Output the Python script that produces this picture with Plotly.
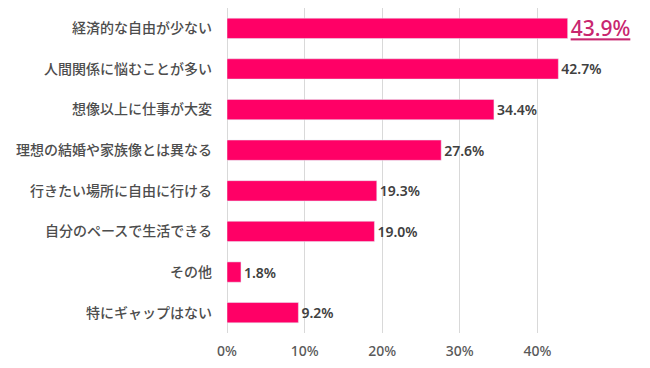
import plotly.graph_objects as go

categories = ["経済的な自由が少ない", "人間関係に悩むことが多い", "想像以上に仕事が大変",
              "理想の結婚や家族像とは異なる", "行きたい場所に自由に行ける",
              "自分のペースで生活できる", "その他", "特にギャップはない"]
values = [43.9, 42.7, 34.4, 27.6, 19.3, 19.0, 1.8, 9.2]
tick_vals = [0, 10, 20, 30, 40]
tick_text = ["0%", "10%", "20%", "30%", "40%"]

labels = []
for i, v in enumerate(values):
    if i == 0:
        labels.append(f"<u>{v:.1f}%</u>")
    else:
        labels.append(f"{v:.1f}%")

fig = go.Figure(go.Bar(
    y=categories, x=values, orientation="h",
    marker=dict(color="#FF0066"),
    width=0.5,
    text=labels, textposition="outside", cliponaxis=False,
    constraintext="none",
    textfont=dict(family="Noto Sans", size=[21] + [14] * 7,
                  color=["#C8266F"] + ["#404040"] * 7,
                  weight=[500] + [600] * 7),
))
fig.update_layout(
    width=642, height=360,
    margin=dict(l=219, r=35, t=0, b=35),
    paper_bgcolor="white", plot_bgcolor="white",
    showlegend=False,
    font=dict(family="Noto Sans CJK JP", color="#555555"),
    xaxis=dict(range=[0, 50], tickvals=tick_vals, ticktext=tick_text,
               showgrid=True, gridcolor="#D9D9D9", gridwidth=1,
               zeroline=True, zerolinecolor="#D9D9D9", zerolinewidth=1,
               tickfont=dict(family="Noto Sans", size=14, color="#595959", weight=500),
               ticks="", ticklabelstandoff=8, automargin=False),
    yaxis=dict(autorange="reversed", ticks="", ticklabelstandoff=14, automargin=False,
               tickfont=dict(family="Noto Sans CJK JP", size=14, color="#4D4D4D", weight=500)),
)
fig.write_html("out.html")
